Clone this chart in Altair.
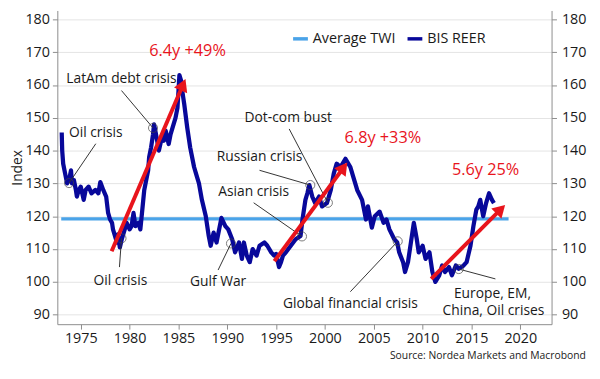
import math
import altair as alt
import pandas as pd

# ---------------- data ----------------
reer_year = [1973.05, 1973.1, 1973.2, 1973.4, 1973.6, 1973.8, 1974.0, 1974.1, 1974.3, 1974.5,
             1974.6, 1974.8, 1975.0, 1975.3, 1975.5, 1975.8, 1976.1, 1976.5, 1976.8, 1977.0,
             1977.3, 1977.6, 1977.8, 1978.0, 1978.2, 1978.3, 1978.5, 1978.7, 1978.8, 1979.0,
             1979.2, 1979.5, 1979.7, 1980.0, 1980.2, 1980.4, 1980.6, 1980.9, 1981.1, 1981.3,
             1981.5, 1981.7, 1981.9, 1982.0, 1982.2, 1982.4, 1982.5, 1982.7, 1983.0, 1983.3,
             1983.5, 1983.7, 1984.0, 1984.2, 1984.4, 1984.7, 1984.9, 1985.0, 1985.1, 1985.3,
             1985.4, 1985.6, 1985.9, 1986.2, 1986.6, 1986.8, 1987.1, 1987.4, 1987.8, 1988.1,
             1988.3, 1988.6, 1988.9, 1989.3, 1989.4, 1989.8, 1990.1, 1990.5, 1990.8, 1991.2,
             1991.5, 1991.7, 1992.0, 1992.3, 1992.6, 1993.0, 1993.3, 1993.8, 1994.1, 1994.5,
             1994.8, 1995.0, 1995.3, 1995.5, 1995.7, 1996.0, 1996.5, 1997.0, 1997.5, 1997.7,
             1998.0, 1998.2, 1998.4, 1998.7, 1999.0, 1999.4, 1999.7, 2000.2, 2000.6, 2000.9,
             2001.2, 2001.6, 2002.1, 2002.6, 2002.9, 2003.3, 2003.8, 2004.0, 2004.2, 2004.4,
             2004.8, 2005.1, 2005.6, 2006.0, 2006.3, 2006.6, 2007.1, 2007.4, 2007.6, 2008.0,
             2008.2, 2008.5, 2008.8, 2009.1, 2009.4, 2009.6, 2010.0, 2010.3, 2010.7, 2011.0,
             2011.3, 2011.7, 2012.0, 2012.3, 2012.7, 2013.0, 2013.4, 2013.7, 2014.2, 2014.5,
             2014.9, 2015.2, 2015.5, 2015.7, 2015.9, 2016.2, 2016.5, 2016.8, 2017.1, 2017.3]
reer_value = [145.5, 140, 136, 133, 130, 131, 134, 130, 131, 128,
              126, 128, 129, 125, 128, 129, 127, 128, 127, 130.4,
              128, 126, 121, 119, 118, 116, 114, 112, 114.5, 110.5,
              113, 116, 118, 116, 117, 121, 117, 118, 116, 122,
              128, 131, 134, 138, 141, 145, 148, 145, 140, 144,
              143, 146, 142, 145, 147, 150, 153, 158, 163, 161,
              158, 154, 147, 141, 135, 133, 130, 125, 120, 114,
              111, 115, 112, 118, 119.5, 117, 116, 113, 109, 112,
              107, 112, 108, 106, 110, 108, 111, 112, 111, 109,
              108, 108.5, 104.5, 106, 108, 109, 111, 113, 114, 119,
              125, 127, 129.5, 126, 124, 126, 123, 124, 128, 133,
              136, 135, 137.5, 135, 132, 128, 125, 122, 119, 123,
              116.5, 120, 121.4, 118, 119, 116, 113, 112, 109, 106,
              103, 106, 112, 118, 113, 109, 111, 107, 109, 103,
              100, 102, 105, 103, 104.5, 102, 105, 104, 105, 106,
              111, 117, 122, 123, 125, 120, 124, 127, 125, 124]

twi_year = [1973.0, 2018.8]
twi_value = [119.2, 119.2]

series_names = ["Average TWI", "BIS REER"]

ann_text = ["Oil crisis", "LatAm debt crisis", "Dot-com bust", "Russian crisis", "Asian crisis",
            "Oil crisis", "Gulf War", "Global financial crisis", "Europe, EM,", "China, Oil crises"]
ann_year = [1976.54, 1979.17, 1996.24, 1993.3, 1992.7, 1979.06, 1989.06, 2002.6, 2017.15, 2017.25]
ann_value = [145.4, 161.95, 149.9, 137.9, 127.4, 100.3, 100.0, 93.1, 96.4, 91.0]

event_year = [1973.8, 1982.4, 2000.3, 1998.5, 1997.65, 1979.17, 1990.38, 2007.45, 2013.7]
event_value = [130.1, 146.9, 124.1, 129.5, 113.85, 113.25, 111.7, 112.35, 103.9]
leader_year = [1976.54, 1979.17, 1996.34, 1993.3, 1992.7, 1978.96, 1989.06, 2002.6, 2017.45]
leader_value = [142.1, 158.3, 146.6, 134.0, 124.1, 104.5, 103.6, 97.0, 100.9]

trend_label = ["6.4y +49%", "6.8y +33%", "5.6y 25%"]
trend_label_year = [1985.93, 2005.93, 2016.44]
trend_label_value = [170.4, 143.9, 134.0]
trend_start_year = [1978.16, 1994.82, 2010.88]
trend_start_value = [109.3, 106.3, 100.9]
trend_end_year = [1985.73, 2002.3, 2018.46]
trend_end_value = [161.9, 136.4, 123.5]

x_ticks = [1975, 1980, 1985, 1990, 1995, 2000, 2005, 2010, 2015, 2020]
y_ticks = [90, 100, 110, 120, 130, 140, 150, 160, 170, 180]

# ---------------- layout ----------------
X_MIN, X_MAX = 1972.6, 2023.2
Y_MIN, Y_MAX = 87.1, 182.7
W, H = 501, 318
PXX = W / (X_MAX - X_MIN)
PXY = H / (Y_MAX - Y_MIN)

FONT = "Open Sans"
NAVY = "#08089a"
LIGHT = "#4aa3e8"
RED = "#e8141c"
TXT = "#1a1a1a"

# arrow geometry (computed in pixel space from the endpoints)
head_year, head_value, head_angle, shaft_year, shaft_value = [], [], [], [], []
for x1, y1, x2, y2 in zip(trend_start_year, trend_start_value, trend_end_year, trend_end_value):
    dx, dy = (x2 - x1) * PXX, (y2 - y1) * PXY
    L = math.hypot(dx, dy)
    ux, uy = dx / L, dy / L
    back = 6.5
    head_year.append(x2 - ux * back / PXX)
    head_value.append(y2 - uy * back / PXY)
    shaft_year.append(x2 - ux * 8 / PXX)
    shaft_value.append(y2 - uy * 8 / PXY)
    head_angle.append(math.degrees(math.atan2(dx, dy)))

reer_df = pd.DataFrame({"year": reer_year, "value": reer_value, "series": series_names[1]})
twi_df = pd.DataFrame({"year": twi_year, "value": twi_value, "series": series_names[0]})
ann_df = pd.DataFrame({"year": ann_year, "value": ann_value, "label": ann_text})
ev_df = pd.DataFrame({"year": event_year, "value": event_value,
                      "year2": leader_year, "value2": leader_value})
tl_df = pd.DataFrame({"year": trend_label_year, "value": trend_label_value, "label": trend_label})
arrow_df = pd.DataFrame({"year": trend_start_year, "value": trend_start_value,
                         "year2": shaft_year, "value2": shaft_value})
head_df = pd.DataFrame({"year": head_year, "value": head_value, "angle": head_angle})

xscale = alt.Scale(domain=[X_MIN, X_MAX], nice=False, zero=False)
yscale = alt.Scale(domain=[Y_MIN, Y_MAX], nice=False, zero=False)
xaxis = alt.Axis(values=x_ticks, format="d", title=None, grid=False)
X = alt.X("year:Q", scale=xscale, axis=xaxis)
Ynone = alt.Y("value:Q", scale=yscale, axis=None)

color = alt.Color("series:N",
                  scale=alt.Scale(domain=series_names, range=[LIGHT, NAVY]),
                  legend=alt.Legend(title=None, orient="none", legendX=237, legendY=19,
                                    direction="horizontal", symbolType="stroke",
                                    symbolStrokeWidth=3.5, symbolSize=225,
                                    labelFontSize=14.5, labelFont=FONT, labelColor=TXT,
                                    labelOffset=3, columnPadding=5))

left_axis = alt.Chart(reer_df).mark_line(opacity=0).encode(
    x=X,
    y=alt.Y("value:Q", scale=yscale,
            axis=alt.Axis(values=y_ticks, orient="left", grid=True, title="Index",
                          titleFontWeight="normal", titleFontSize=14, titleFont=FONT,
                          titleColor=TXT, titleX=-40, titleY=H / 2, titleAngle=270,
                          titleAlign="center", titleBaseline="middle")),
)
right_axis = alt.Chart(reer_df).mark_line(opacity=0).encode(
    x=X,
    y=alt.Y("value:Q", scale=yscale,
            axis=alt.Axis(values=y_ticks, orient="right", grid=False, title=None,
                          labelPadding=5)),
)

twi = alt.Chart(twi_df).mark_line(strokeWidth=3.5).encode(x=X, y=Ynone, color=color)
reer = alt.Chart(reer_df).mark_line(strokeWidth=4.3, strokeJoin="round").encode(
    x=X, y=Ynone, color=color)

leaders = alt.Chart(ev_df).mark_rule(color="#333333", strokeWidth=1).encode(
    x=X, y=Ynone, x2="year2:Q", y2="value2:Q")
circles = alt.Chart(ev_df).mark_point(shape="circle", filled=False, size=85,
                                      color="#444444", strokeWidth=1).encode(x=X, y=Ynone)
labels = alt.Chart(ann_df).mark_text(font=FONT, fontSize=14, color=TXT,
                                     align="center", baseline="middle").encode(
    x=X, y=Ynone, text="label:N")

shafts = alt.Chart(arrow_df).mark_rule(color=RED, strokeWidth=4).encode(
    x=X, y=Ynone, x2="year2:Q", y2="value2:Q")
heads = alt.Chart(head_df).mark_point(shape="triangle-up", filled=True, size=210,
                                      color=RED, opacity=1).encode(
    x=X, y=Ynone, angle=alt.Angle("angle:Q", scale=None))
trend_labels = alt.Chart(tl_df).mark_text(font=FONT, fontSize=16.5, color=RED,
                                          align="center", baseline="middle").encode(
    x=X, y=Ynone, text="label:N")

chart = alt.layer(
    left_axis, right_axis, twi, reer, leaders, circles, labels, shafts, heads, trend_labels
).resolve_axis(y="independent").properties(
    width=W, height=H,
    autosize=alt.AutoSizeParams(type="none"),
    padding={"left": 50, "top": 0, "right": 41, "bottom": 50},
    title=alt.TitleParams("Source: Nordea Markets and Macrobond", orient="bottom",
                          anchor="end", fontSize=10.5, fontWeight="normal",
                          font=FONT, color=TXT, offset=6),
).configure_axis(
    domainColor="#8c8c8c", tickColor="#8c8c8c", tickSize=5,
    labelFont=FONT, labelFontSize=14.5, labelColor=TXT, labelPadding=3,
    gridColor="#e4e4e4", gridWidth=1,
).configure_view(stroke=None)

chart.save("out.html", embed_options={"renderer": "svg", "actions": False})
